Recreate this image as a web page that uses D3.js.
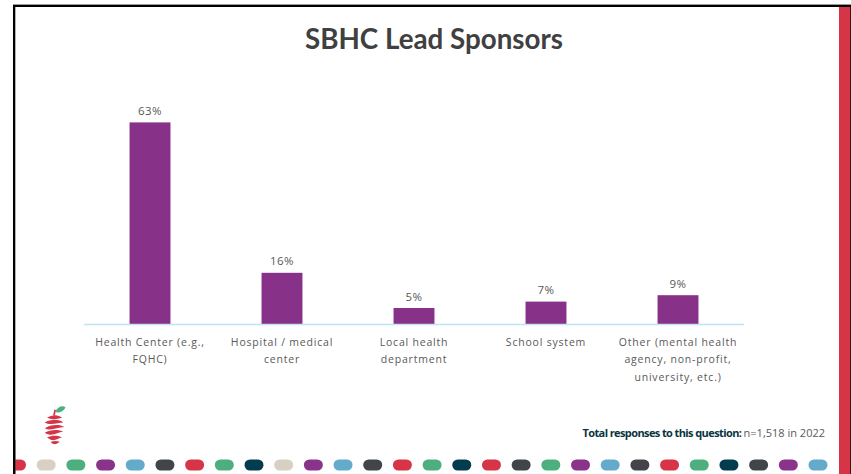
<!DOCTYPE html>
<html><head><meta charset="utf-8">
<script src="https://cdn.jsdelivr.net/npm/d3@7/dist/d3.min.js"></script>
<style>body{margin:0;background:#fff}svg{display:block}</style>
</head><body>
<script>
const categories = [
  ["Health Center (e.g.,", "FQHC)"],
  ["Hospital / medical", "center"],
  ["Local health", "department"],
  ["School system"],
  ["Other (mental health", "agency, non-profit,", "university, etc.)"]
];
const values = [63, 16, 5, 7, 9];
const valueLabels = ["63%", "16%", "5%", "7%", "9%"];
const dotColors = ["#d63447","#d8d0c2","#4caf7d","#8a338a","#63aacb","#414549","#d63447","#4caf7d","#033c4e","#d8d0c2","#8a338a","#63aacb","#414549","#d63447","#4caf7d","#033c4e","#d63447","#414549","#4caf7d","#8a338a","#63aacb","#414549","#d63447","#4caf7d","#033c4e","#414549","#8a338a","#63aacb"];

const W = 851, H = 474;
const svg = d3.select("body").append("svg").attr("width", W).attr("height", H);

// frame
svg.append("rect").attr("x",13).attr("y",4).attr("width",838).attr("height",1.2).attr("fill","#999");
svg.append("rect").attr("x",13).attr("y",5).attr("width",838).attr("height",2).attr("fill","#000");
svg.append("rect").attr("x",13).attr("y",5).attr("width",2.3).attr("height",H).attr("fill","#000");
svg.append("rect").attr("x",839).attr("y",7).attr("width",11).attr("height",H).attr("fill","#d63447");
svg.append("rect").attr("x",850).attr("y",7).attr("width",1).attr("height",H).attr("fill","#3a1418");

// title
svg.append("text").attr("x",434).attr("y",49).attr("text-anchor","middle")
  .attr("font-family","Lato, 'Open Sans', sans-serif").attr("font-weight",700)
  .attr("font-size",28).attr("fill","#404040")
  .attr("textLength",258).attr("lengthAdjust","spacingAndGlyphs")
  .text("SBHC Lead Sponsors");

// scales
const x = d3.scaleBand().domain(d3.range(categories.length)).range([84, 744]).paddingInner(0.69).paddingOuter(0.345);
const y = d3.scaleLinear().domain([0, 100]).range([324, 4]);

const g = svg.append("g");
g.selectAll("rect.bar").data(values).join("rect").attr("class","bar")
  .attr("x",(d,i)=>x(i)).attr("width",x.bandwidth())
  .attr("y",d=>y(d)).attr("height",d=>y(0)-y(d)).attr("fill","#873288");

// axis line
const axis = d3.axisBottom(x).tickSize(0).tickFormat("");
const ax = svg.append("g").attr("transform",`translate(0,${y(0)})`).call(axis);
ax.select(".domain").attr("stroke","#bfe4f3").attr("stroke-width",1.3).attr("d","M84,0.5H744");

// value labels
g.selectAll("text.val").data(values).join("text").attr("class","val")
  .attr("x",(d,i)=>x(i)+x.bandwidth()/2).attr("y",d=>y(d)-7.5)
  .attr("text-anchor","middle").attr("font-family","'Open Sans', sans-serif")
  .attr("font-size",11.5).attr("letter-spacing","0.4").attr("fill","#595959").text((d,i)=>valueLabels[i]);

// category labels
const cl = g.selectAll("text.cat").data(categories).join("text").attr("class","cat")
  .attr("text-anchor","middle").attr("font-family","'Open Sans', sans-serif")
  .attr("font-size",10.5).attr("fill","#595959").attr("letter-spacing","0.8");
cl.each(function(lines,i){
  d3.select(this).selectAll("tspan").data(lines).join("tspan")
    .attr("x",x(i)+x.bandwidth()/2).attr("y",(d,j)=>346+j*17.3).text(d=>d);
});

// footer text
const ft = svg.append("text").attr("x",825).attr("y",437).attr("text-anchor","end")
  .attr("font-family","'Open Sans', sans-serif").attr("font-size",11);
ft.append("tspan").attr("font-weight",700).attr("fill","#0b3340").attr("letter-spacing","-0.6").text("Total responses to this question: ");
ft.append("tspan").attr("fill","#595959").attr("font-size",11).text("n=1,518 in 2022");

// dots
const dx = d3.scaleLinear().domain([0, dotColors.length-1]).range([16.5, 818]);
const dots = svg.append("g");
dots.selectAll("rect").data(dotColors).join("rect")
  .attr("x",(d,i)=>dx(i)-9.5).attr("y",459.5).attr("width",19).attr("height",11)
  .attr("rx",5.5).attr("fill",d=>d);
// mask left overflow behind frame
svg.append("rect").attr("x",0).attr("y",440).attr("width",13).attr("height",34).attr("fill","#fff");
svg.append("rect").attr("x",13).attr("y",440).attr("width",2.3).attr("height",34).attr("fill","#000");

// logo (apple)
const logo = svg.append("g").attr("transform","translate(54,427) scale(1.15)");
logo.append("path").attr("d","M0,-10 L1,-15").attr("stroke","#d63447").attr("stroke-width",1.5);
logo.append("path").attr("d","M1,-13 C3,-18 8,-19 10,-17 C8,-13 4,-12 1,-13Z").attr("fill","#4caf7d");
const stripes = [
  "M-6,-8 C-2,-11 4,-11 7,-8 C3,-7 -2,-6 -6,-8Z",
  "M-8,-4 C-3,-7 5,-7 8,-4 C4,-4 -3,-1 -8,-4Z",
  "M-8,1 C-4,-2 5,-3 9,0 C3,0 -3,4 -8,1Z",
  "M-8,5 C-3,2 4,2 8,4 C3,5 -2,9 -8,5Z",
  "M-6,9 C-2,7 4,7 7,9 C3,10 -1,14 -6,9Z",
  "M-3,13 C0,12 3,12 5,13 C2,15 0,16 -3,13Z"
];
logo.selectAll("path.s").data(stripes).join("path").attr("class","s").attr("d",d=>d).attr("fill","#d63447");
</script>
</body></html>
